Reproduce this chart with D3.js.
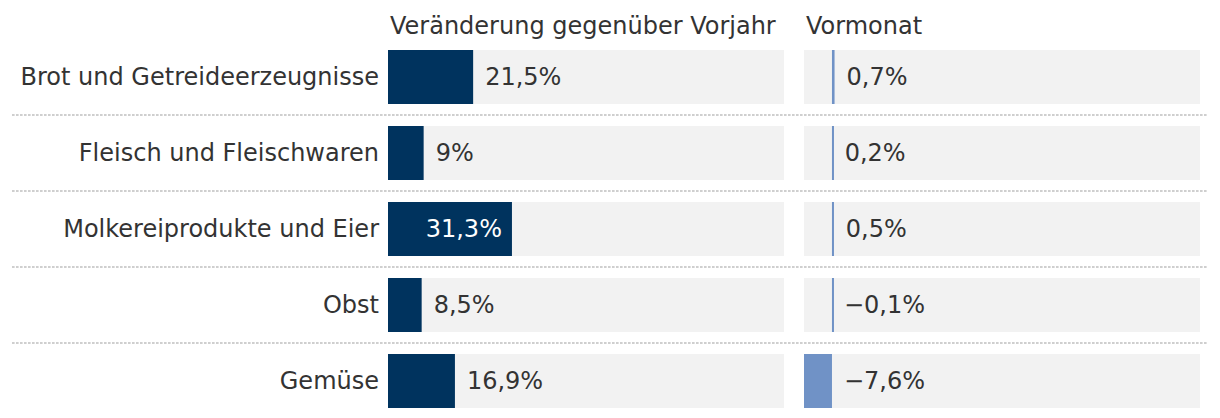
<!DOCTYPE html>
<html><head><meta charset="utf-8">
<script src="https://cdn.jsdelivr.net/npm/d3@7"></script>
<style>
html,body{margin:0;padding:0;background:#fff;}
svg{display:block;font-family:"DejaVu Sans",Verdana,sans-serif;}
</style></head>
<body>
<svg id="chart" width="1220" height="418"></svg>
<script>
const categories = ["Brot und Getreideerzeugnisse","Fleisch und Fleischwaren","Molkereiprodukte und Eier","Obst","Gemüse"];
const vorjahr = [21.5, 9, 31.3, 8.5, 16.9];
const vormonat = [0.7, 0.2, 0.5, -0.1, -7.6];
const headers = ["Veränderung gegenüber Vorjahr","Vormonat"];

const svg = d3.select("#chart");
const textColor = "#333333";
const dark = "#00335e";
const light = "#7092c6";
const bg = "#f2f2f2";

const y = d3.scaleBand().domain(categories).range([39, 419])
  .paddingInner(22/76).paddingOuter(11/76);

const x1 = d3.scaleLinear().domain([0, 100]).range([388, 784]);
const x2 = d3.scaleLinear().domain([Math.min(0, d3.min(vormonat)), 100]).range([804, 1200]);

const fmt = v => (v < 0 ? "\u2212" : "") + String(Math.abs(v)).replace(".", ",") + "%";

// separators
svg.append("g").selectAll("line").data(categories.slice(1)).join("line")
  .attr("x1", 12).attr("x2", 1208)
  .attr("y1", d => y(d) - 11).attr("y2", d => y(d) - 11)
  .attr("stroke", "#cfcfcf").attr("stroke-width", 2).attr("stroke-dasharray", "2.6,1.4");

// headers
svg.append("text").attr("x", x1.range()[0] + 2).attr("y", 34).attr("fill", textColor)
  .style("font-size", "24px").text(headers[0]);
svg.append("text").attr("x", x2.range()[0] + 2).attr("y", 34).attr("fill", textColor)
  .style("font-size", "24px").text(headers[1]);

// category labels
svg.append("g").selectAll("text").data(categories).join("text")
  .attr("x", 379).attr("y", d => y(d) + y.bandwidth()/2).attr("dy", "0.35em")
  .attr("text-anchor", "end").attr("fill", textColor).style("font-size", "24px")
  .text(d => d);

// panel backgrounds
svg.append("g").selectAll("rect").data(categories).join("rect")
  .attr("x", x1.range()[0]).attr("width", x1.range()[1] - x1.range()[0])
  .attr("y", d => y(d)).attr("height", y.bandwidth()).attr("fill", bg);
svg.append("g").selectAll("rect").data(categories).join("rect")
  .attr("x", x2.range()[0]).attr("width", x2.range()[1] - x2.range()[0])
  .attr("y", d => y(d)).attr("height", y.bandwidth()).attr("fill", bg);

// left bars
const leftData = categories.map((c, i) => ({c, v: vorjahr[i]}));
svg.append("g").selectAll("rect").data(leftData).join("rect")
  .attr("x", x1(0)).attr("width", d => x1(d.v) - x1(0))
  .attr("y", d => y(d.c)).attr("height", y.bandwidth()).attr("fill", dark);

const labelG = svg.append("g").style("font-size", "24px");
labelG.selectAll("text").data(leftData).join("text")
  .attr("y", d => y(d.c) + y.bandwidth()/2).attr("dy", "0.35em")
  .each(function(d) {
    const t = d3.select(this).text(fmt(d.v));
    const tw = this.getComputedTextLength();
    const bw = x1(d.v) - x1(0);
    const inside = bw > tw + 24;
    t.attr("x", inside ? x1(d.v) - 10 : x1(d.v) + 12)
     .attr("text-anchor", inside ? "end" : "start")
     .attr("fill", inside ? "#ffffff" : textColor);
  });

// right bars
const rightData = categories.map((c, i) => ({c, v: vormonat[i]}));
svg.append("g").selectAll("rect").data(rightData).join("rect")
  .attr("x", d => {
    const w = Math.abs(x2(d.v) - x2(0));
    return w < 2 ? x2(0) : Math.min(x2(d.v), x2(0));
  })
  .attr("width", d => Math.max(2, Math.abs(x2(d.v) - x2(0))))
  .attr("y", d => y(d.c)).attr("height", y.bandwidth()).attr("fill", light);

svg.append("g").style("font-size", "24px").selectAll("text").data(rightData).join("text")
  .attr("x", d => Math.max(x2(d.v), x2(0)) + 12)
  .attr("y", d => y(d.c) + y.bandwidth()/2).attr("dy", "0.35em")
  .attr("fill", textColor).text(d => fmt(d.v));
</script>
</body></html>
